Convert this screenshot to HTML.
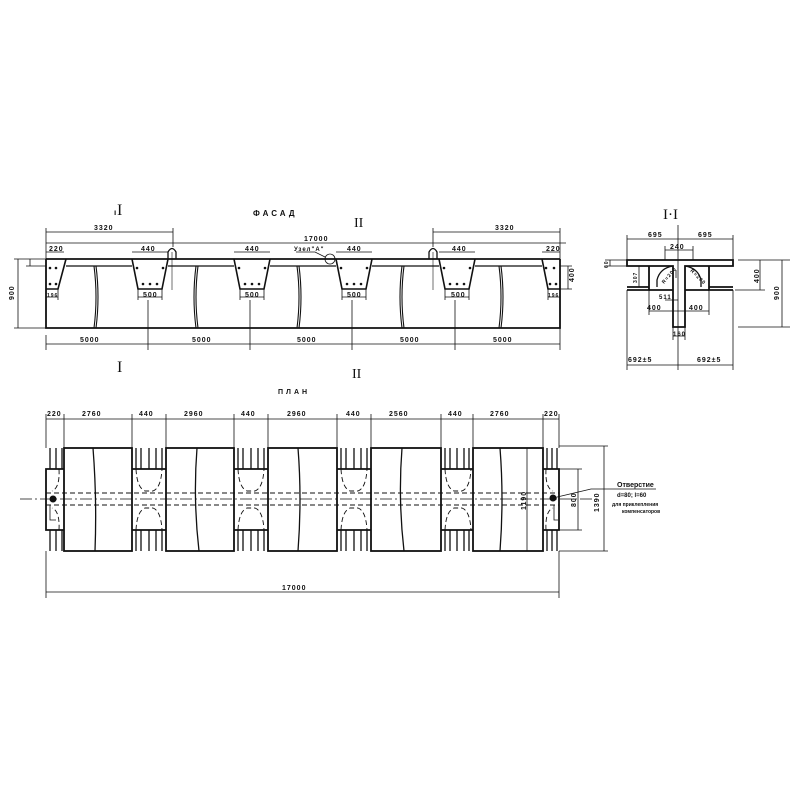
<!DOCTYPE html>
<html><head><meta charset="utf-8"><style>
html,body{margin:0;padding:0;background:#fff;}
svg{display:block;font-family:"Liberation Sans","DejaVu Sans",sans-serif;}
text{font-size:7px;fill:#111;letter-spacing:1px;font-weight:bold;}
</style></head><body>
<svg width="800" height="800" viewBox="0 0 800 800" xmlns="http://www.w3.org/2000/svg">
<g stroke="#111" fill="none" stroke-width="1">
<!-- ===== FACADE ===== -->
<line x1="46" y1="259" x2="560" y2="259" stroke-width="1.8"/>
<path d="M66,266H132 M168,266H234 M270,266H336 M372,266H439 M475,266H542" stroke-width="1.3"/>
<path d="M46,259V328H560V259" stroke-width="1.8"/>
<path d="M46,289H58L66,259" stroke-width="1.6"/>
<path d="M560,289H548L542,259" stroke-width="1.6"/>
<path d="M132,259L138,289H162L168,259" stroke-width="1.6"/>
<path d="M234,259L240,289H264L270,259" stroke-width="1.6"/>
<path d="M336,259L342,289H366L372,259" stroke-width="1.6"/>
<path d="M439,259L445,289H469L475,259" stroke-width="1.6"/>
<path d="M94,266Q98,297 94,328 M96,266Q100,297 96,328" stroke-width="1.1"/>
<path d="M196,266Q192,297 196,328 M198,266Q194,297 198,328" stroke-width="1.1"/>
<path d="M297,266Q301,297 297,328 M299,266Q303,297 299,328" stroke-width="1.1"/>
<path d="M402,266Q398,297 402,328 M404,266Q400,297 404,328" stroke-width="1.1"/>
<path d="M499,266Q503,297 499,328 M501,266Q505,297 501,328" stroke-width="1.1"/>
<path d="M168,259V252Q172,245 176,252V259" stroke-width="1.3"/><line x1="172" y1="252" x2="172" y2="290" stroke-width=".6"/>
<path d="M429,259V252Q433,245 437,252V259" stroke-width="1.3"/><line x1="433" y1="252" x2="433" y2="290" stroke-width=".6"/>
<g stroke-width=".8">
<path d="M46,232H173 M46,228V259 M173,228V247"/>
<path d="M433,232H560 M433,228V247 M560,228V259"/>
<path d="M46,243H566"/>
<path d="M46,252H64 M132,252H168 M234,252H270 M336,252H372 M439,252H475 M542,252H560"/>
<path d="M138,297H162 M240,297H264 M342,297H366 M445,297H469 M46,297H58 M548,297H560"/>
<path d="M138,289V300 M162,289V300 M240,289V300 M264,289V300 M342,289V300 M366,289V300 M445,289V300 M469,289V300 M58,289V300 M548,289V300"/>
<path d="M46,344H560 M46,335V350 M148,300V350 M250,300V350 M352,300V350 M455,300V350 M560,328V350"/>
<path d="M18,259V328 M14,259H46 M14,328H46 M30,259V266 M26,259H46 M26,266H46"/>
<path d="M568,266V289 M560,266H572 M560,289H572"/>
<path d="M325,257L315,252H296"/>
<circle cx="330" cy="259" r="5"/>
</g>
<g fill="#111" stroke="none">
<circle cx="50" cy="268" r="1.3"/><circle cx="56" cy="268" r="1.3"/><circle cx="50" cy="284" r="1.3"/><circle cx="56" cy="284" r="1.3"/>
<circle cx="137" cy="268" r="1.3"/><circle cx="163" cy="268" r="1.3"/><circle cx="143" cy="284" r="1.3"/><circle cx="150" cy="284" r="1.3"/><circle cx="157" cy="284" r="1.3"/>
<circle cx="239" cy="268" r="1.3"/><circle cx="265" cy="268" r="1.3"/><circle cx="245" cy="284" r="1.3"/><circle cx="252" cy="284" r="1.3"/><circle cx="259" cy="284" r="1.3"/>
<circle cx="341" cy="268" r="1.3"/><circle cx="367" cy="268" r="1.3"/><circle cx="347" cy="284" r="1.3"/><circle cx="354" cy="284" r="1.3"/><circle cx="361" cy="284" r="1.3"/>
<circle cx="444" cy="268" r="1.3"/><circle cx="470" cy="268" r="1.3"/><circle cx="450" cy="284" r="1.3"/><circle cx="457" cy="284" r="1.3"/><circle cx="464" cy="284" r="1.3"/>
<circle cx="546" cy="268" r="1.3"/><circle cx="554" cy="268" r="1.3"/><circle cx="550" cy="284" r="1.3"/><circle cx="556" cy="284" r="1.3"/>
</g>

<!-- ===== PLAN ===== -->
<g stroke-width="1.8">
<rect x="64" y="448" width="68" height="103"/>
<rect x="166" y="448" width="68" height="103"/>
<rect x="268" y="448" width="69" height="103"/>
<rect x="371" y="448" width="70" height="103"/>
<rect x="473" y="448" width="70" height="103"/>
<path d="M64,469H46V530H64 M132,469H166 M132,530H166 M234,469H268 M234,530H268 M337,469H371 M337,530H371 M441,469H473 M441,530H473 M543,469H559V530H543"/>
</g>
<path d="M93,448Q97,499 95,551 M197,448Q193,499 199,551 M298,448Q302,499 298,551 M402,448Q398,499 404,551 M500,448Q504,499 500,551" stroke-width="1.3"/>
<g stroke-width="1.3">
<path d="M50,448V469 M56,448V469 M62,448V469 M50,530V551 M56,530V551 M62,530V551"/>
<path d="M136,448V469 M141,448V469 M149,448V469 M156,448V469 M162,448V469 M136,530V551 M141,530V551 M149,530V551 M156,530V551 M162,530V551"/>
<path d="M238,448V469 M243,448V469 M251,448V469 M258,448V469 M264,448V469 M238,530V551 M243,530V551 M251,530V551 M258,530V551 M264,530V551"/>
<path d="M341,448V469 M346,448V469 M354,448V469 M361,448V469 M367,448V469 M341,530V551 M346,530V551 M354,530V551 M361,530V551 M367,530V551"/>
<path d="M445,448V469 M450,448V469 M457,448V469 M464,448V469 M469,448V469 M445,530V551 M450,530V551 M457,530V551 M464,530V551 M469,530V551"/>
<path d="M547,448V469 M552,448V469 M557,448V469 M547,530V551 M552,530V551 M557,530V551"/>
</g>
<g stroke-width=".9" stroke-dasharray="5,3">
<path d="M46,493H559 M46,505H559"/>
<path d="M136,469Q137,488 145,491H153Q161,488 162,469 M136,530Q137,511 145,508H153Q161,511 162,530"/>
<path d="M238,469Q239,488 247,491H255Q263,488 264,469 M238,530Q239,511 247,508H255Q263,511 264,530"/>
<path d="M341,469Q342,488 350,491H358Q366,488 367,469 M341,530Q342,511 350,508H358Q366,511 367,530"/>
<path d="M445,469Q446,488 454,491H462Q470,488 471,469 M445,530Q446,511 454,508H462Q470,511 471,530"/>
<path d="M59,469Q60,488 52,491 M59,530Q60,511 52,508 M546,469Q545,488 553,491 M546,530Q545,511 553,508"/>
</g>
<path d="M20,499H600" stroke-width=".7" stroke-dasharray="12,3,2,3"/>
<circle cx="53" cy="499" r="3" fill="#111"/>
<circle cx="553" cy="498" r="3" fill="#111"/>
<g stroke-width=".8">
<path d="M46,419H559 M46,414V448 M64,414V448 M132,414V448 M166,414V448 M234,414V448 M268,414V448 M337,414V448 M371,414V448 M441,414V448 M473,414V448 M543,414V448 M559,414V448"/>
<path d="M46,592H559 M46,551V598 M559,551V598"/>
<path d="M527,448V551"/>
<path d="M578,469V530 M559,469H582 M559,530H582"/>
<path d="M604,446V551 M559,446H608 M559,551H608"/>
<path d="M553,498L591,489H656"/>
<path d="M50,505V520H56 M554,505V520H558"/>
</g>

<!-- ===== SECTION I-I ===== -->
<g stroke-width="1.8">
<path d="M627,260H733V266H685V327H673V266H627Z"/>
<path d="M649,266V290H627 M709,266V290H733 M649,287H627 M709,287H733"/>
<path d="M649,290H673 M685,290H709"/>
</g>
<path d="M657,287V280Q660,268 673,266 M701,287V280Q698,268 685,266" stroke-width="1.3"/>
<g stroke-width=".8">
<path d="M627,239H733 M627,235V260 M733,235V260 M678,225V370"/>
<path d="M665,250H693 M665,246V260 M693,246V260"/>
<path d="M627,365H733 M627,290V370 M733,290V370"/>
<path d="M610,260V266 M605,260H627 M605,266H627"/>
<path d="M738,260H790 M738,327H790 M782,260V327 M735,290H765 M760,260V290"/>
<path d="M639,266V287 M665,300H678 M649,311H709 M649,290V315 M709,290V315 M673,336H685 M673,327V340 M685,327V340"/>
<path d="M676,270V278"/>
</g>
</g>

<text x="117" y="215" style="font-size:16px;font-family:'Liberation Serif',serif;letter-spacing:0;font-weight:normal">I</text>
<text x="114" y="215" style="font-size:8px">ı</text>
<text x="253" y="216" style="font-size:8px;letter-spacing:3px">ФАСАД</text>
<text x="354" y="227" style="font-size:14px;font-family:'Liberation Serif',serif;letter-spacing:0;font-weight:normal">II</text>
<text x="117" y="372" style="font-size:16px;font-family:'Liberation Serif',serif;letter-spacing:0;font-weight:normal">I</text>
<text x="352" y="378" style="font-size:14px;font-family:'Liberation Serif',serif;letter-spacing:0;font-weight:normal">II</text>
<text x="94" y="230">3320</text>
<text x="495" y="230">3320</text>
<text x="304" y="241">17000</text>
<text x="49" y="251">220</text><text x="141" y="251">440</text><text x="245" y="251">440</text><text x="347" y="251">440</text><text x="452" y="251">440</text><text x="546" y="251">220</text>
<text x="294" y="251" style="font-size:6px">Узел"А"</text>
<text x="143" y="297">500</text><text x="245" y="297">500</text><text x="347" y="297">500</text><text x="451" y="297">500</text>
<text x="47" y="297" style="font-size:5px">196</text><text x="548" y="297" style="font-size:5px">196</text>
<text x="80" y="342">5000</text><text x="192" y="342">5000</text><text x="297" y="342">5000</text><text x="400" y="342">5000</text><text x="493" y="342">5000</text>
<text x="0" y="0" transform="translate(14,300) rotate(-90)">900</text>
<text x="0" y="0" transform="translate(574,282) rotate(-90)">400</text>
<text x="278" y="394" style="font-size:7px;letter-spacing:3px">ПЛАН</text>
<text x="47" y="416">220</text><text x="82" y="416">2760</text><text x="139" y="416">440</text><text x="184" y="416">2960</text><text x="241" y="416">440</text><text x="287" y="416">2960</text><text x="346" y="416">440</text><text x="389" y="416">2560</text><text x="448" y="416">440</text><text x="490" y="416">2760</text><text x="544" y="416">220</text>
<text x="282" y="590">17000</text>
<text x="0" y="0" transform="translate(526,510) rotate(-90)">1190</text>
<text x="0" y="0" transform="translate(576,507) rotate(-90)">800</text>
<text x="0" y="0" transform="translate(599,512) rotate(-90)">1390</text>
<text x="617" y="487" style="font-size:7px;letter-spacing:0">Отверстие</text>
<text x="617" y="497" style="font-size:6px;letter-spacing:0">d=80; l=60</text>
<text x="612" y="506" style="font-size:5px;letter-spacing:0">для приклепления</text>
<text x="622" y="513" style="font-size:5px;letter-spacing:0">компенсаторов</text>
<text x="663" y="219" style="font-size:15px;font-family:'Liberation Serif',serif;letter-spacing:0;font-weight:normal">I·I</text>
<text x="648" y="237">695</text><text x="698" y="237">695</text>
<text x="670" y="249">240</text>
<text x="647" y="310">400</text><text x="689" y="310">400</text>
<text x="659" y="299" style="font-size:6px">511</text>
<text x="673" y="336" style="font-size:6px">160</text>
<text x="628" y="362">692±5</text><text x="697" y="362">692±5</text>
<text x="0" y="0" transform="translate(608,268) rotate(-90)" style="font-size:5px">60</text>
<text x="0" y="0" transform="translate(637,283) rotate(-90)" style="font-size:5px">307</text>
<text x="0" y="0" transform="translate(759,283) rotate(-90)">400</text>
<text x="0" y="0" transform="translate(779,300) rotate(-90)">900</text>
<text x="0" y="0" transform="translate(664,284) rotate(-50)" style="font-size:5px">R=200</text>
<text x="0" y="0" transform="translate(690,271) rotate(45)" style="font-size:5px">R=200</text>
</svg>
</body></html>
